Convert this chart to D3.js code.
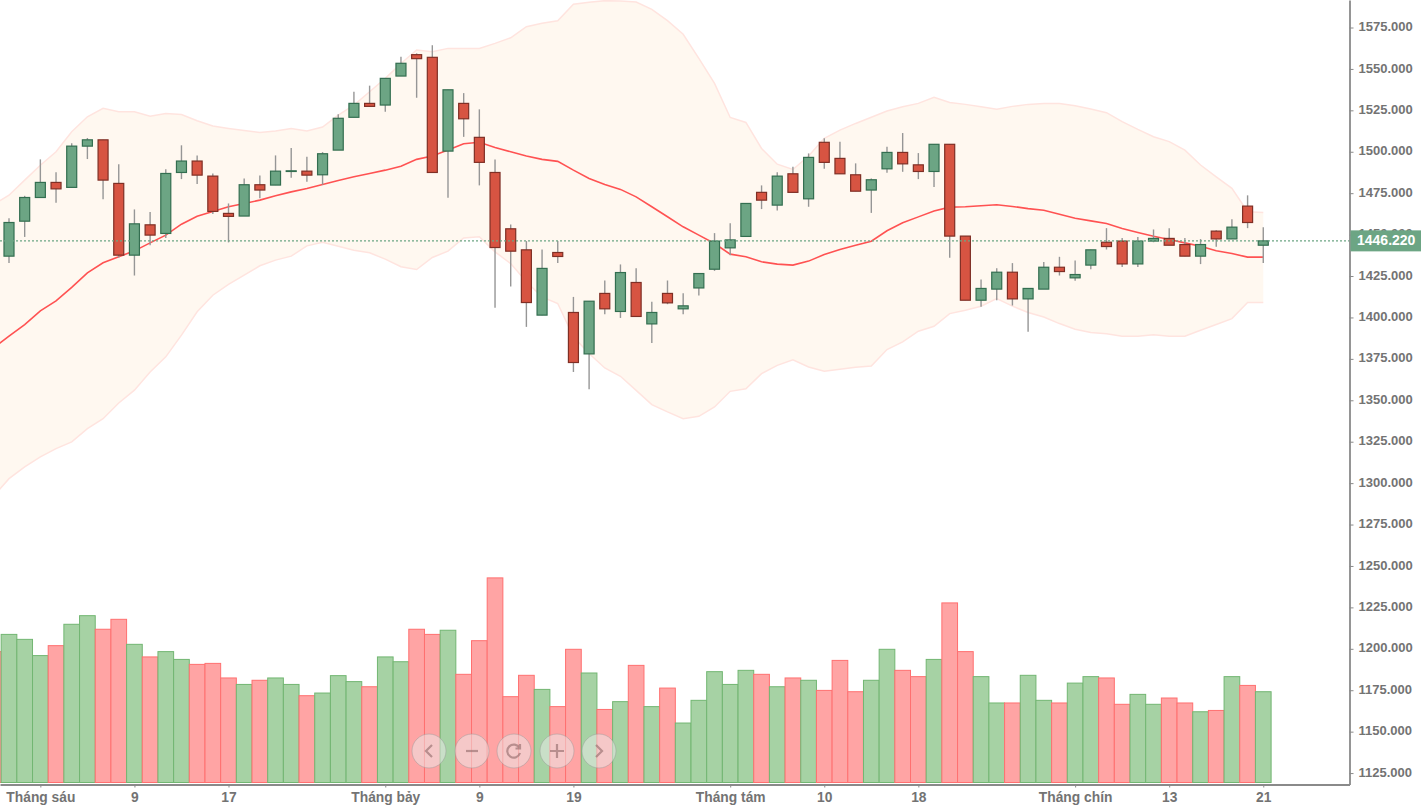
<!DOCTYPE html>
<html>
<head>
<meta charset="utf-8">
<script src="https://cdnjs.cloudflare.com/ajax/libs/d3/7.8.5/d3.min.js"></script>
<style>
html, body { margin: 0; padding: 0; background: #fff; overflow: hidden; }
svg { display: block; }
text { font-family: "Liberation Sans", Arial, sans-serif; }
</style>
</head>
<body>
<svg width="1421" height="805"></svg>
<script>
const opens = [
  1437.0,1458.1,1472.4,1481.5,1478.5,1503.4,1507.2,1480.9,1437.6,1455.9,
  1450.7,1487.5,1494.4,1485.3,1462.8,1461.2,1480.1,1479.9,1488.1,1488.3,
  1486.1,1501.0,1520.8,1529.2,1528.2,1545.7,1558.6,1557.0,1500.4,1529.2,
  1508.7,1487.5,1453.5,1440.8,1401.4,1439.2,1403.0,1378.0,1414.5,1403.6,
  1421.1,1396.1,1414.5,1405.2,1417.8,1429.1,1442.0,1448.9,1475.5,1467.8,
  1486.7,1471.6,1505.7,1496.0,1486.1,1476.9,1489.7,1499.6,1492.1,1488.1,
  1504.5,1449.1,1410.4,1417.1,1427.3,1411.2,1417.1,1430.3,1423.9,1431.6,
  1445.4,1446.1,1432.3,1446.1,1447.7,1444.0,1437.0,1452.1,1447.4,1467.2,1443.6
];
const highs = [
  1459.8,1473.4,1495.4,1487.7,1505.1,1508.3,1507.2,1492.4,1465.2,1463.7,
  1489.4,1503.9,1497.8,1486.9,1468.8,1483.9,1485.7,1497.8,1502.2,1497.0,
  1499.8,1522.6,1536.2,1539.9,1544.3,1557.4,1559.4,1564.3,1537.4,1535.4,
  1525.6,1495.4,1456.1,1446.1,1441.0,1446.1,1412.4,1409.8,1422.3,1432.0,
  1429.7,1409.4,1422.3,1414.6,1426.5,1450.9,1456.9,1468.8,1479.7,1487.7,
  1490.9,1499.0,1508.1,1506.0,1493.0,1483.9,1503.0,1511.3,1499.2,1504.5,
  1504.5,1449.1,1422.9,1429.7,1432.8,1417.5,1433.4,1436.6,1434.4,1440.8,
  1453.9,1447.9,1448.5,1453.1,1453.9,1447.9,1447.3,1452.7,1459.2,1473.7,1454.5
];
const lows = [
  1432.9,1448.6,1472.4,1469.2,1478.5,1495.6,1471.4,1436.2,1425.3,1443.6,
  1448.0,1483.5,1480.5,1462.4,1445.3,1461.2,1472.0,1479.9,1484.3,1481.9,
  1480.1,1501.0,1520.8,1527.4,1524.1,1545.7,1532.6,1487.5,1472.2,1509.0,
  1479.7,1405.8,1418.7,1394.3,1401.4,1432.9,1367.1,1356.7,1402.0,1399.7,
  1400.6,1384.6,1408.0,1402.0,1413.3,1428.1,1437.6,1448.9,1465.4,1464.6,
  1475.5,1466.8,1489.7,1486.7,1476.2,1463.1,1487.3,1487.9,1483.5,1478.8,
  1436.0,1410.4,1406.4,1410.4,1407.2,1391.3,1417.1,1425.3,1422.1,1429.1,
  1441.0,1430.5,1430.5,1445.4,1443.6,1437.0,1432.2,1442.6,1447.4,1453.9,1432.8
];
const closes = [
  1457.3,1472.4,1481.5,1477.6,1503.4,1507.2,1482.9,1437.6,1456.5,1449.7,
  1486.9,1494.4,1485.9,1464.0,1461.0,1480.1,1476.9,1488.3,1488.5,1485.9,
  1498.8,1520.2,1529.2,1527.4,1544.3,1553.4,1556.2,1487.5,1537.4,1519.9,
  1493.6,1442.2,1440.0,1409.0,1429.6,1436.8,1372.8,1409.8,1405.2,1427.1,
  1400.6,1403.0,1408.8,1407.0,1426.5,1446.1,1446.8,1468.8,1470.8,1485.3,
  1475.5,1496.6,1493.6,1486.7,1476.2,1483.1,1499.6,1492.7,1488.1,1504.5,
  1449.1,1410.4,1417.5,1427.3,1411.2,1417.5,1430.3,1427.7,1425.9,1440.8,
  1442.8,1432.3,1446.1,1447.7,1443.6,1437.0,1444.0,1447.4,1454.5,1457.3,1446.22
];

// volume tops as read against the right axis, bar -1 hangs off the left edge
const hiddenBarVolume = 1198.0;
const volumes = [
  1208.4,1205.4,1195.6,1201.6,1214.5,1219.7,1211.5,1217.5,1202.4,1194.8,
  1198.0,1193.3,1190.3,1190.9,1182.1,1178.2,1180.7,1182.1,1178.2,1171.4,
  1173.0,1183.5,1179.9,1176.8,1194.8,1191.9,1211.5,1208.4,1210.9,1184.3,
  1204.6,1242.5,1170.8,1183.7,1175.2,1164.8,1199.4,1185.1,1163.1,1167.8,
  1189.7,1164.8,1176.0,1154.9,1168.6,1185.9,1178.2,1186.7,1184.3,1176.8,
  1182.1,1180.7,1174.6,1192.7,1173.8,1180.7,1199.4,1186.7,1182.9,1193.3,
  1227.4,1198.0,1182.9,1167.0,1167.0,1183.7,1168.6,1167.0,1179.0,1182.9,
  1182.1,1166.2,1172.2,1166.2,1170.0,1167.0,1161.7,1162.5,1182.9,1177.6,1173.8
];

// bollinger bands, first value belongs to bar -1
const upperBand = [
  1468.0,
  1473.8,1482.9,1491.9,1500.0,1512.1,1521.1,1526.2,1524.2,1524.2,1521.5,
  1523.1,1522.5,1518.7,1515.5,1514.1,1512.9,1511.7,1512.5,1514.1,1512.5,
  1514.9,1522.1,1528.2,1536.2,1544.3,1553.3,1561.4,1560.4,1562.4,1562.4,
  1562.4,1565.4,1568.8,1575.5,1577.5,1579.1,1589.0,1590.2,1591.2,1591.0,
  1590.4,1586.0,1579.1,1570.9,1556.4,1541.3,1520.7,1517.7,1502.0,1492.5,
  1489.3,1497.4,1508.1,1513.1,1517.1,1520.8,1524.6,1527.2,1529.2,1532.9,
  1529.8,1528.6,1527.2,1525.6,1527.4,1528.6,1529.2,1529.2,1527.8,1525.8,
  1523.6,1518.2,1513.5,1509.1,1506.1,1501.0,1492.0,1484.9,1477.9,1463.8,1463.4
];
const middleBand = [
  1381.5,
  1388.7,1395.7,1404.0,1410.0,1418.1,1426.9,1433.0,1436.6,1440.2,1445.0,
  1449.7,1456.3,1461.1,1464.0,1466.8,1468.8,1470.8,1473.4,1475.8,1477.8,
  1480.3,1482.7,1484.9,1486.9,1488.9,1491.3,1495.4,1497.4,1501.0,1504.8,
  1505.7,1502.6,1500.0,1497.4,1495.4,1494.2,1488.9,1483.9,1480.3,1477.3,
  1472.8,1466.8,1460.8,1454.7,1449.7,1444.6,1438.2,1436.6,1433.6,1432.2,
  1431.6,1434.0,1438.0,1441.0,1443.6,1446.0,1452.3,1457.1,1460.7,1464.3,
  1466.6,1466.8,1467.4,1468.0,1467.0,1465.7,1464.7,1462.3,1459.9,1458.3,
  1456.7,1453.7,1451.3,1449.0,1447.0,1445.0,1443.0,1440.2,1438.6,1436.4,1436.4
];
const lowerBand = [
  1292.0,
  1302.7,1309.8,1315.8,1320.8,1324.9,1332.9,1338.9,1348.4,1356.1,1367.1,
  1376.2,1389.3,1403.4,1413.4,1419.9,1425.5,1431.2,1434.6,1437.0,1443.2,
  1445.3,1443.0,1440.6,1439.0,1435.2,1430.6,1428.9,1436.2,1440.0,1448.0,
  1448.7,1439.6,1432.5,1421.5,1412.4,1408.4,1388.3,1378.2,1369.5,1364.5,
  1356.0,1347.4,1343.0,1338.9,1340.3,1346.0,1355.4,1357.0,1366.1,1371.1,
  1374.4,1370.1,1367.5,1368.7,1369.9,1370.7,1380.6,1385.2,1391.7,1394.7,
  1402.3,1404.4,1406.8,1411.4,1406.8,1403.0,1400.3,1396.3,1392.9,1390.9,
  1390.1,1388.7,1388.7,1389.5,1388.7,1388.7,1392.3,1395.7,1399.3,1409.0,1409.0
];

const priceTicks = d3.range(1125, 1576, 25);
const dateTickIndex = [2, 8, 14, 24, 30, 36, 46, 52, 58, 68, 74, 80];
const dateTickLabels = ['Tháng sáu', '9', '17', 'Tháng bảy', '9', '19', 'Tháng tám', '10', '18', 'Tháng chín', '13', '21'];
const lastPrice = 1446.22;

const svg = d3.select('svg');

const axisX = 1349.5;
const axisY = 784.5;
const x = d3.scaleLinear().domain([-0.574, 85.5]).range([0, axisX]);
const y = d3.scaleLinear().domain([1118.1, 1591.6]).range([axisY, 0]);
const step = x(1) - x(0);
const bodyWidth = 10;

const greenFill = '#6ca584', greenEdge = '#336e50';
const redFill = '#d75442', redEdge = '#7f2f25';

const chart = svg.append('g');

// bands
const bandIdx = d3.range(upperBand.length);
const bandX = i => x(i - 1);

chart.append('path')
  .attr('d', d3.area().x(bandX).y0(i => y(lowerBand[i])).y1(i => y(upperBand[i]))(bandIdx))
  .attr('fill', '#fff8f0');

[upperBand, lowerBand].forEach(band => {
  chart.append('path')
    .attr('d', d3.line().x(bandX).y(i => y(band[i]))(bandIdx))
    .attr('fill', 'none')
    .attr('stroke', '#ffe4df')
    .attr('stroke-width', 1.5);
});

// volume, drawn against the same axis as price
const volumeIdx = d3.range(volumes.length + 1);
const volumeOf = i => i === 0 ? hiddenBarVolume : volumes[i - 1];
const isUp = i => i > 0 && closes[i - 1] >= opens[i - 1];

chart.append('g').selectAll('rect')
  .data(volumeIdx)
  .join('rect')
  .attr('x', i => x(i - 1) - step / 2)
  .attr('y', i => y(volumeOf(i)) - 0.5)
  .attr('width', step)
  .attr('height', i => axisY - 1.5 - y(volumeOf(i)))
  .attr('fill', i => isUp(i) ? '#a6d2a4' : '#ffa4a4')
  .attr('stroke', i => isUp(i) ? '#72b672' : '#ff7070')
  .attr('stroke-width', 1);

chart.append('path')
  .attr('d', d3.line().x(bandX).y(i => y(middleBand[i]))(bandIdx))
  .attr('fill', 'none')
  .attr('stroke', '#ff5252')
  .attr('stroke-width', 1.6);

// candles
const candleIdx = d3.range(opens.length);

chart.append('g').selectAll('line')
  .data(candleIdx)
  .join('line')
  .attr('x1', i => x(i))
  .attr('x2', i => x(i))
  .attr('y1', i => y(highs[i]))
  .attr('y2', i => y(lows[i]))
  .attr('stroke', '#969696')
  .attr('stroke-width', 1.4);

chart.append('g').selectAll('rect')
  .data(candleIdx)
  .join('rect')
  .attr('x', i => x(i) - bodyWidth / 2)
  .attr('y', i => y(Math.max(opens[i], closes[i])))
  .attr('width', bodyWidth)
  .attr('height', i => Math.abs(y(opens[i]) - y(closes[i])))
  .attr('fill', i => closes[i] >= opens[i] ? greenFill : redFill)
  .attr('stroke', i => closes[i] >= opens[i] ? greenEdge : redEdge)
  .attr('stroke-width', 1.2);

// last price line
chart.append('line')
  .attr('x1', 0)
  .attr('x2', axisX)
  .attr('y1', y(lastPrice))
  .attr('y2', y(lastPrice))
  .attr('stroke', '#6ca584')
  .attr('stroke-width', 1.2)
  .attr('stroke-dasharray', '2,2');

// axes
const rightAxis = svg.append('g')
  .attr('transform', `translate(${axisX},0)`)
  .call(d3.axisRight(y).tickValues(priceTicks).tickFormat(d3.format('.3f')).tickSize(4).tickSizeOuter(0));

const bottomAxis = svg.append('g')
  .attr('transform', `translate(0,${axisY})`)
  .call(d3.axisBottom(x).tickValues(dateTickIndex).tickFormat((d, i) => dateTickLabels[i]).tickSize(3).tickSizeOuter(0));

[rightAxis, bottomAxis].forEach(axis => {
  axis.select('.domain').attr('stroke', '#8a8a8a').attr('stroke-width', 1.8);
  axis.selectAll('.tick line').attr('stroke', '#8a8a8a').attr('stroke-width', 1);
  axis.selectAll('text')
    .attr('fill', '#737373')
    .attr('font-size', 13)
    .attr('font-weight', 700)
    .style('font-family', '"Liberation Sans", Arial, sans-serif');
});
rightAxis.selectAll('text').attr('dy', '0.24em').attr('x', 9);
bottomAxis.selectAll('text').attr('dy', '0.82em').attr('font-size', 13.8);

// last price tag
const tag = svg.append('g').attr('transform', `translate(${axisX + 1},${y(lastPrice)})`);
tag.append('rect')
  .attr('x', 0)
  .attr('y', -10.5)
  .attr('width', 72)
  .attr('height', 21)
  .attr('fill', '#6ca584');
tag.append('text')
  .attr('x', 6.5)
  .attr('dy', '0.3em')
  .attr('fill', '#fff')
  .attr('font-size', 14)
  .attr('font-weight', 700)
  .text(d3.format('.3f')(lastPrice));

// zoom buttons over the volume bars
const buttons = [
  { cx: 429, icon: 'M3,-6L-3,0L3,6' },
  { cx: 472, icon: 'M-6,0H6' },
  { cx: 514, icon: 'M5.5,-3A6.5,6.5,0,1,0,6,2M6,-7V-2.5H1.5' },
  { cx: 557, icon: 'M-7,0H7M0,-7V7' },
  { cx: 599, icon: 'M-3,-6L3,0L-3,6' }
];
const button = svg.append('g').selectAll('g')
  .data(buttons)
  .join('g')
  .attr('transform', d => `translate(${d.cx},751)`);
button.append('circle')
  .attr('r', 17)
  .attr('fill', 'rgba(235,235,235,0.5)')
  .attr('stroke', 'rgba(150,150,150,0.45)')
  .attr('stroke-width', 1);
button.append('path')
  .attr('d', d => d.icon)
  .attr('fill', 'none')
  .attr('stroke', 'rgba(150,110,110,0.65)')
  .attr('stroke-width', 2.2);
</script>
</body>
</html>
